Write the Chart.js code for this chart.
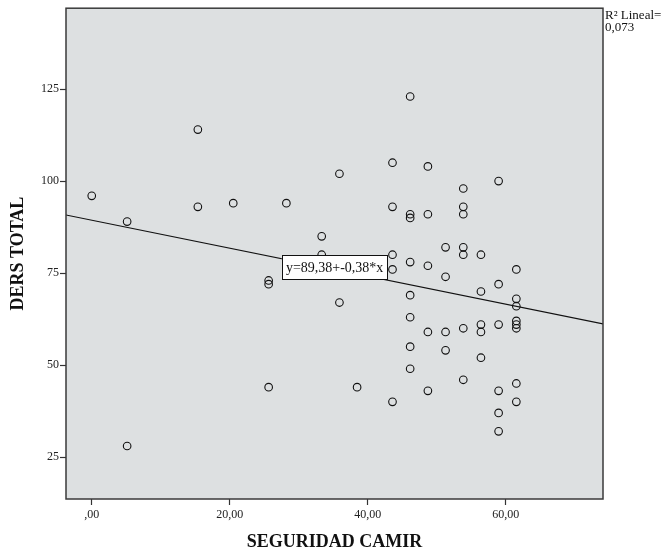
<!DOCTYPE html>
<html>
<head>
<meta charset="utf-8">
<script src="https://cdn.jsdelivr.net/npm/chart.js@4/dist/chart.umd.min.js"></script>
<style>
  html, body { margin: 0; padding: 0; background: #ffffff; }
  #wrap { width: 670px; height: 551px; position: relative; }
</style>
</head>
<body>
<div id="wrap"><canvas id="c" width="670" height="551"></canvas></div>
<script>
// ---- Data ----
const seguridadCamir = [
  0, 5.13, 5.13, 15.38, 15.38, 20.51, 25.64, 25.64, 25.64, 28.21,
  33.33, 33.33, 35.90, 35.90, 38.46,
  43.59, 43.59, 43.59, 43.59, 43.59,
  46.15, 46.15, 46.15, 46.15, 46.15, 46.15, 46.15, 46.15,
  48.72, 48.72, 48.72, 48.72, 48.72,
  51.28, 51.28, 51.28, 51.28,
  53.85, 53.85, 53.85, 53.85, 53.85, 53.85, 53.85,
  56.41, 56.41, 56.41, 56.41, 56.41,
  58.97, 58.97, 58.97, 58.97, 58.97, 58.97,
  61.54, 61.54, 61.54, 61.54, 61.54, 61.54, 61.54, 61.54
];
const dersTotal = [
  96, 89, 28, 114, 93, 94, 73, 72, 44, 94,
  85, 80, 102, 67, 44,
  105, 93, 80, 76, 40,
  123, 91, 90, 78, 69, 63, 55, 49,
  104, 91, 77, 59, 43,
  82, 74, 59, 54,
  98, 93, 91, 82, 80, 60, 46,
  80, 70, 61, 59, 52,
  100, 72, 61, 43, 37, 32,
  76, 68, 66, 62, 61, 60, 45, 40
];
const regression = [89.38, -0.38];          // intercept, slope
const regressionLabel = 'y=89,38+-0,38*x';
const r2Lines = ['R\u00B2 Lineal=', '0,073'];
const labelAtX = 35.2;                       // where the equation label sits on the line
const xRange = [-3.73, 74.1];
const yRange = [13.6, 147.0];
const xTickValues = [0, 20, 40, 60];
const xTickLabels = [',00', '20,00', '40,00', '60,00'];
const yTickValues = [25, 50, 75, 100, 125];
const yTickLabels = ['25', '50', '75', '100', '125'];
const xTitle = 'SEGURIDAD CAMIR';
const yTitle = 'DERS TOTAL';

// ---- Build chart ----
const SERIF = "'Liberation Serif', 'Times New Roman', serif";
const points = seguridadCamir.map((x, i) => ({ x: x, y: dersTotal[i] }));
const lineData = xRange.map(x => ({ x: x, y: regression[0] + regression[1] * x }));

const bgPlugin = {
  id: 'bgPlugin',
  beforeDraw(chart) {
    const { ctx, chartArea: a } = chart;
    ctx.save();
    ctx.fillStyle = '#dde0e1';
    ctx.fillRect(a.left, a.top, a.right - a.left, a.bottom - a.top);
    ctx.restore();
  },
  afterDraw(chart) {
    const { ctx, chartArea: a, scales } = chart;
    ctx.save();
    // frame
    ctx.strokeStyle = '#3a3a3a';
    ctx.lineWidth = 1.5;
    ctx.strokeRect(a.left, a.top, a.right - a.left, a.bottom - a.top);
    // equation label on the regression line
    ctx.font = '14px ' + SERIF;
    const tw = ctx.measureText(regressionLabel).width;
    const cx = scales.x.getPixelForValue(labelAtX);
    const cy = scales.y.getPixelForValue(regression[0] + regression[1] * labelAtX) - 2;
    const bw = tw + 8, bh = 24;
    ctx.fillStyle = '#ffffff';
    ctx.fillRect(cx - bw / 2, cy - bh / 2, bw, bh);
    ctx.strokeStyle = '#111';
    ctx.lineWidth = 1;
    ctx.strokeRect(Math.round(cx - bw / 2) + 0.5, Math.round(cy - bh / 2) + 0.5, Math.round(bw), bh);
    ctx.fillStyle = '#111';
    ctx.textAlign = 'center';
    ctx.textBaseline = 'middle';
    ctx.fillText(regressionLabel, cx, cy + 1);
    // R² annotation
    ctx.font = '13px ' + SERIF;
    ctx.textAlign = 'left';
    ctx.textBaseline = 'alphabetic';
    ctx.fillText(r2Lines[0], a.right + 2, a.top + 11);
    ctx.fillText(r2Lines[1], a.right + 2, a.top + 23);
    ctx.restore();
  }
};

new Chart(document.getElementById('c'), {
  type: 'scatter',
  data: {
    datasets: [
      {
        type: 'line',
        data: lineData,
        borderColor: '#111',
        borderWidth: 1.2,
        pointRadius: 0,
        fill: false,
        tension: 0
      },
      {
        data: points,
        pointStyle: 'circle',
        pointRadius: 3.8,
        pointBorderWidth: 1.1,
        pointBorderColor: '#111',
        pointBackgroundColor: 'rgba(0,0,0,0)'
      }
    ]
  },
  options: {
    responsive: false,
    animation: false,
    devicePixelRatio: 1,
    layout: { padding: { top: 7, right: 67, left: 0, bottom: 0 } },
    plugins: { legend: { display: false }, tooltip: { enabled: false } },
    scales: {
      x: {
        type: 'linear',
        min: xRange[0],
        max: xRange[1],
        afterFit(s) { s.height = 52; },
        afterBuildTicks(s) { s.ticks = xTickValues.map(v => ({ value: v })); },
        ticks: {
          autoSkip: false,
          maxRotation: 0,
          padding: 3,
          color: '#222',
          font: { family: SERIF, size: 12 },
          callback(v) { const i = xTickValues.indexOf(v); return i >= 0 ? xTickLabels[i] : ''; }
        },
        grid: { drawOnChartArea: false, drawTicks: true, tickLength: 6, tickColor: '#333', tickWidth: 1.2 },
        border: { display: false },
        title: {
          display: true, text: xTitle, color: '#111',
          font: { family: SERIF, size: 18, weight: 'bold', lineHeight: 1.0 },
          padding: { top: 0, bottom: 0 }
        }
      },
      y: {
        type: 'linear',
        min: yRange[0],
        max: yRange[1],
        afterFit(s) { s.width = 66; },
        afterBuildTicks(s) { s.ticks = yTickValues.map(v => ({ value: v })); },
        ticks: {
          autoSkip: false,
          padding: 1,
          color: '#222',
          font: { family: SERIF, size: 12 },
          callback(v) { const i = yTickValues.indexOf(v); return i >= 0 ? yTickLabels[i] : ''; }
        },
        grid: { drawOnChartArea: false, drawTicks: true, tickLength: 6, tickColor: '#333', tickWidth: 1.2 },
        border: { display: false },
        title: {
          display: true, text: yTitle, color: '#111',
          font: { family: SERIF, size: 18, weight: 'bold', lineHeight: 1.0 },
          padding: { top: 9.5, bottom: 0 }
        }
      }
    }
  },
  plugins: [bgPlugin]
});
</script>
</body>
</html>
